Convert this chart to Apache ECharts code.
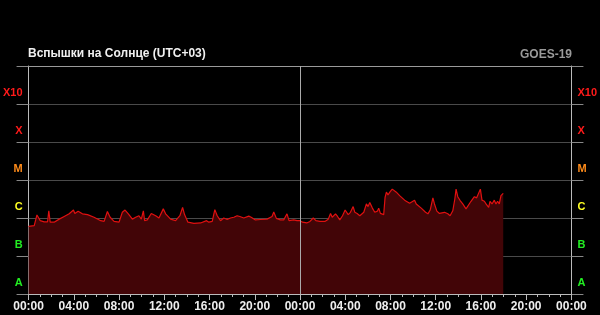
<!DOCTYPE html>
<html>
<head>
<meta charset="utf-8">
<script src="https://cdn.jsdelivr.net/npm/echarts@6/dist/echarts.min.js"></script>
<style>
html,body{margin:0;padding:0;background:#000;}
#c{width:600px;height:315px;}
</style>
</head>
<body>
<div id="c"></div>
<script>
// Time in hours from start (00:00 day 1), level = log10(flux W/m2) + 8  (A=0..1, B=1..2, C=2..3, M=3..4, X=4..5, X10=5..6)
const hours = [
0,0.5,0.74,1.03,1.38,1.68,1.79,1.91,2.26,2.71,3.15,3.59,3.97,4.09,4.38,4.76,5.21,5.79,6.38,6.68,6.97,7.21,7.56,8.0,8.29,8.53,8.82,9.18,9.47,9.76,9.97,10.15,10.26,10.5,10.85,11.24,11.53,11.91,12.12,12.56,13.0,13.38,13.62,13.79,14.09,14.62,15.21,15.74,15.94,16.24,16.47,16.68,16.97,17.26,17.56,17.85,18.15,18.44,18.68,19.03,19.47,19.68,20.06,20.5,21.09,21.53,21.68,21.91,22.26,22.56,22.85,23.03,23.44,23.74,
24.0,24.23,24.59,24.88,25.17,25.41,25.76,26.2,26.5,26.7,26.85,27.14,27.32,27.52,27.76,27.99,28.26,28.46,28.7,28.85,29.05,29.29,29.64,29.87,30.02,30.17,30.4,30.61,30.84,30.96,31.11,31.4,31.52,31.64,31.78,31.99,32.16,32.52,32.81,33.25,33.69,34.13,34.28,34.72,35.1,35.31,35.51,35.75,35.89,36.1,36.33,36.78,37.07,37.27,37.51,37.69,37.8,37.95,38.16,38.39,38.68,38.83,39.12,39.42,39.62,39.77,39.95,40.09,40.3,40.45,40.68,40.8,40.98,41.18,41.33,41.47,41.62,41.77,41.97
];
const levels = [
1.78,1.80,2.08,1.93,1.90,1.90,2.19,1.89,1.89,1.97,2.04,2.11,2.21,2.12,2.18,2.11,2.09,2.02,1.93,1.91,2.17,2.02,1.91,1.89,2.15,2.21,2.11,1.97,2.02,2.06,1.97,2.19,1.93,1.95,2.12,2.06,2.00,2.24,2.11,1.97,1.93,2.06,2.28,2.09,1.89,1.86,1.87,1.93,1.89,1.91,2.22,2.06,1.93,2.00,1.96,2.00,2.02,2.06,2.04,2.00,2.05,2.02,1.95,1.96,1.97,2.04,2.16,1.99,1.95,1.95,2.11,1.93,1.95,1.93,
1.93,1.89,1.87,1.91,2.00,1.93,1.91,1.91,1.97,2.12,2.02,2.11,2.04,1.95,2.06,2.21,2.09,2.15,2.30,2.15,2.12,2.06,2.15,2.37,2.30,2.41,2.26,2.15,2.18,2.26,2.12,2.09,2.54,2.68,2.61,2.70,2.76,2.68,2.59,2.47,2.39,2.47,2.37,2.26,2.15,2.11,2.21,2.53,2.37,2.18,2.12,2.15,2.11,2.06,2.19,2.50,2.76,2.56,2.46,2.37,2.24,2.21,2.44,2.56,2.53,2.56,2.76,2.47,2.44,2.37,2.28,2.44,2.37,2.47,2.37,2.44,2.37,2.59,2.65
];
const bandLabels = ['A','B','C','M','X','X10'];
const bandColors = ['#22ee22','#22ee22','#ffff22','#ff8c1a','#ff1a1a','#ff1a1a'];
const titleText = 'Вспышки на Солнце (UTC+03)';
const sourceText = 'GOES-19';

const data = hours.map((h,i)=>[h, levels[i]]);
const font = 'Liberation Sans, Arial, sans-serif';

function yAxisCfg(pos){
  return {
    type:'value', position:pos, min:0, max:6, interval:1,
    axisLine:{show:true, lineStyle:{color:'#bbbbbb', width:1}},
    axisTick:{show:true, length:12, lineStyle:{color:'#888888'}},
    splitLine:{show: pos==='left', lineStyle:{color:['#888','#4a4a4a','#4a4a4a','#4a4a4a','#4a4a4a','#4a4a4a','#9a9a9a'], width:1}},
    axisLabel:{
      show:true, margin: 6,
      formatter: v => (v < 6 ? bandLabels[v] : ''),
      color: (v) => bandColors[+v] || '#fff',
      fontFamily: font, fontWeight:'bold', fontSize:11,
      verticalAlign:'bottom', lineHeight:23
    }
  };
}

const chart = echarts.init(document.getElementById('c'), null, {renderer:'canvas'});
chart.setOption({
  backgroundColor:'#000',
  animation:false,
  title:[
    {text:titleText, left:23, top:43, textStyle:{color:'#f0f0f0', fontSize:12, fontWeight:'bold', fontFamily:font}},
    {text:sourceText, right:23, top:44, textStyle:{color:'#9a9a9a', fontSize:12, fontWeight:'bold', fontFamily:font}}
  ],
  grid:{left:27, right:28, top:66, bottom:21, containLabel:false},
  xAxis:{
    type:'value', min:0, max:48, interval:4,
    axisLine:{show:true, lineStyle:{color:'#bbbbbb'}},
    axisTick:{show:true, length:6, lineStyle:{color:'#bbbbbb'}},
    minorTick:{show:true, splitNumber:4, length:3, lineStyle:{color:'#bbbbbb'}},
    splitLine:{show:false},
    axisLabel:{
      margin:7, color:'#eeeeee', fontSize:12, fontWeight:'bold', fontFamily:font,
      formatter: v => String(v % 24).padStart(2,'0') + ':00'
    }
  },
  yAxis:[yAxisCfg('left'), yAxisCfg('right')],
  series:[{
    type:'line', data:data, xAxisIndex:0, yAxisIndex:0,
    showSymbol:false, symbol:'none',
    lineStyle:{color:'#e01010', width:1.2},
    areaStyle:{color:'#420507', opacity:1},
    markLine:{
      silent:true, symbol:'none', label:{show:false},
      lineStyle:{color:'#aaaaaa', type:'solid', width:1},
      data:[{xAxis:24}]
    }
  }]
});
</script>
</body>
</html>
